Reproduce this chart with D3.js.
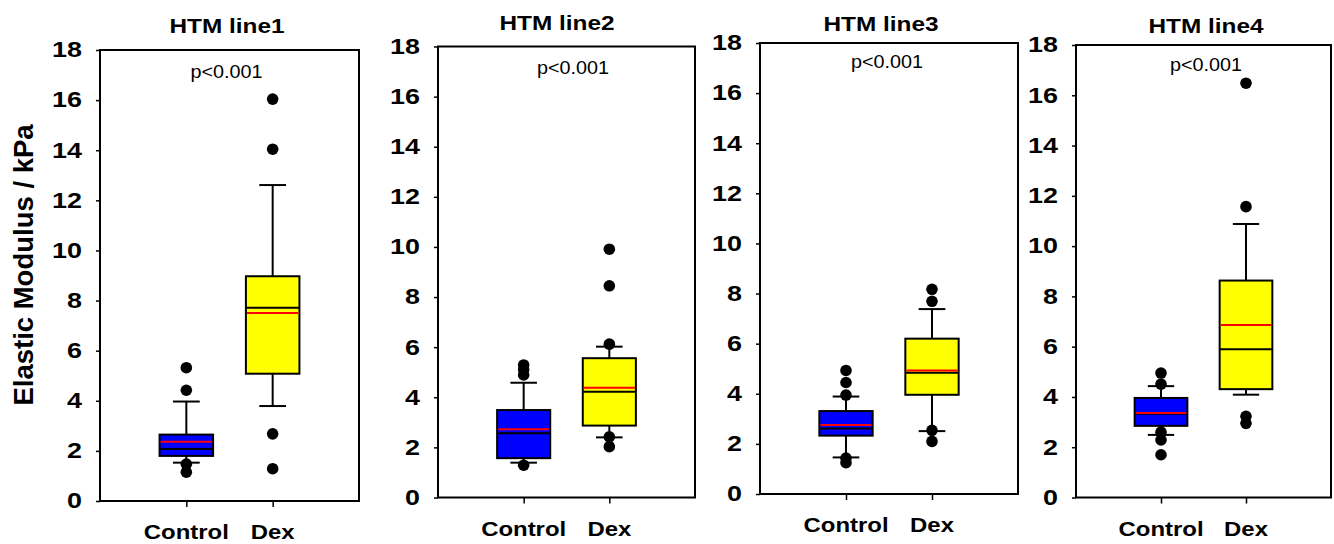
<!DOCTYPE html>
<html>
<head>
<meta charset="utf-8">
<script src="https://cdn.jsdelivr.net/npm/d3@7"></script>
<style>
  body { margin: 0; background: #fff; }
  svg { display: block; }
  text { font-family: "Liberation Sans", Arial, sans-serif; fill: #000; }
</style>
</head>
<body>
<div id="chart"></div>
<script>
// data (kPa)
var categories = ["Control", "Dex"];
var panelTitles = ["HTM line1", "HTM line2", "HTM line3", "HTM line4"];
var pLabels = ["p<0.001", "p<0.001", "p<0.001", "p<0.001"];
var yTicks = [0, 2, 4, 6, 8, 10, 12, 14, 16, 18];
var boxColors = ["#0000ff", "#ffff00"];

// [Control, Dex] per panel
var q1 = [[1.80, 5.08], [1.57, 2.87], [2.33, 3.96], [2.85, 4.31]];
var medians = [[2.08, 7.71], [2.56, 4.22], [2.61, 4.84], [3.33, 5.90]];
var q3 = [[2.65, 8.97], [3.49, 5.56], [3.31, 6.20], [3.96, 8.63]];
var means = [[2.36, 7.50], [2.72, 4.38], [2.75, 4.93], [3.36, 6.86]];
var whiskerLow = [[1.53, 3.79], [1.39, 2.40], [1.46, 2.51], [2.49, 4.09]];
var whiskerHigh = [[3.97, 12.61], [4.58, 6.02], [3.89, 7.38], [4.43, 10.88]];
var outliers = [
  [[5.32, 4.42, 1.47, 1.15], [16.04, 14.04, 2.68, 1.29]],
  [[5.29, 5.10, 4.89, 1.29], [9.91, 8.45, 6.12, 2.42, 2.03]],
  [[4.93, 4.45, 3.95, 1.43, 1.25], [8.17, 7.69, 2.54, 2.10]],
  [[4.95, 4.51, 2.60, 2.29, 1.70], [16.48, 11.57, 3.23, 2.95]]
];

// layout of the four frames
var panelLeft = [100, 438, 760, 1076];
var panelRight = [359, 695, 1018, 1331];
var panelTop = [50, 46.5, 43, 45];
var panelBottom = [501, 497.5, 494, 497.5];
var titleX = [227, 557, 881, 1206], titleY = [33, 29.5, 30.5, 33];
var pX = [226.5, 573, 887, 1206], pY = [78, 73.6, 67.7, 71.2];

var W = 1334, H = 544;
var svg = d3.select("#chart").append("svg")
    .attr("width", W)
    .attr("height", H);

function stretchText(sel, x, y, sx) {
  return sel.attr("transform", "translate(" + x + "," + y + ") scale(" + sx + ",1)");
}

svg.append("text")
    .attr("transform", "translate(33,265) rotate(-90)")
    .attr("text-anchor", "middle")
    .style("font-size", "27.5px")
    .style("font-weight", "bold")
    .text("Elastic Modulus / kPa");

panelTitles.forEach(function(title, i) {
  var w = panelRight[i] - panelLeft[i];
  var g = svg.append("g")
      .attr("transform", "translate(" + panelLeft[i] + "," + panelTop[i] + ")");
  var h = panelBottom[i] - panelTop[i];

  var y = d3.scaleLinear().domain([0, 18]).range([h, 0]);
  var x = d3.scalePoint().domain(categories).range([0, w]).padding(1);
  var boxW = x.step() * 0.62, capW = boxW / 2;

  // frame
  g.append("rect")
      .attr("width", w)
      .attr("height", h)
      .attr("fill", "none")
      .attr("stroke", "#000")
      .attr("stroke-width", 2);

  var yAxis = g.append("g")
      .call(d3.axisLeft(y).tickValues(yTicks).tickSize(4).tickPadding(10.4).tickFormat(d3.format("d")));
  yAxis.select(".domain").remove();
  yAxis.selectAll("line").attr("stroke-width", 1.5);
  yAxis.selectAll("text")
      .attr("transform", "scale(1.25,1)")
      .style("font-size", "21.5px")
      .style("font-weight", "bold")
      .style("font-family", "'Liberation Sans', Arial, sans-serif")
      .attr("fill", "#000");

  var xAxis = g.append("g")
      .attr("transform", "translate(0," + h + ")")
      .call(d3.axisBottom(x).tickSize(6).tickFormat(""));
  xAxis.select(".domain").remove();
  xAxis.selectAll("line").attr("stroke-width", 1.5);

  categories.forEach(function(c, k) {
    stretchText(svg.append("text"), panelLeft[i] + x(c), panelBottom[i] + 38, 1.14)
        .attr("text-anchor", "middle")
        .style("font-size", "21px")
        .style("font-weight", "bold")
        .text(c);

    var cx = x(c);
    var box = g.append("g");
    // whiskers
    box.append("line")
        .attr("x1", cx).attr("x2", cx)
        .attr("y1", y(q3[i][k])).attr("y2", y(whiskerHigh[i][k]))
        .attr("stroke", "#000").attr("stroke-width", 2);
    box.append("line")
        .attr("x1", cx).attr("x2", cx)
        .attr("y1", y(q1[i][k])).attr("y2", y(whiskerLow[i][k]))
        .attr("stroke", "#000").attr("stroke-width", 2);
    [whiskerHigh[i][k], whiskerLow[i][k]].forEach(function(v) {
      box.append("line")
          .attr("x1", cx - capW / 2).attr("x2", cx + capW / 2)
          .attr("y1", y(v)).attr("y2", y(v))
          .attr("stroke", "#000").attr("stroke-width", 2);
    });
    box.append("rect")
        .attr("x", cx - boxW / 2)
        .attr("y", y(q3[i][k]))
        .attr("width", boxW)
        .attr("height", y(q1[i][k]) - y(q3[i][k]))
        .attr("fill", boxColors[k])
        .attr("stroke", "#000")
        .attr("stroke-width", 2);
    box.append("line")
        .attr("x1", cx - boxW / 2).attr("x2", cx + boxW / 2)
        .attr("y1", y(medians[i][k])).attr("y2", y(medians[i][k]))
        .attr("stroke", "#000").attr("stroke-width", 2);
    box.append("line")
        .attr("x1", cx - boxW / 2 + 1).attr("x2", cx + boxW / 2 - 1)
        .attr("y1", y(means[i][k])).attr("y2", y(means[i][k]))
        .attr("stroke", "#ff0000").attr("stroke-width", 2);

    box.selectAll("circle")
        .data(outliers[i][k])
      .enter().append("circle")
        .attr("cx", cx)
        .attr("cy", function(d) { return y(d); })
        .attr("r", 5.8)
        .attr("fill", "#000");
  });

  stretchText(svg.append("text"), titleX[i], titleY[i], 1.16)
      .attr("text-anchor", "middle")
      .style("font-size", "21px")
      .style("font-weight", "bold")
      .text(title);

  stretchText(svg.append("text"), pX[i], pY[i], 1.1)
      .attr("text-anchor", "middle")
      .style("font-size", "18px")
      .text(pLabels[i]);
});
</script>
</body>
</html>
